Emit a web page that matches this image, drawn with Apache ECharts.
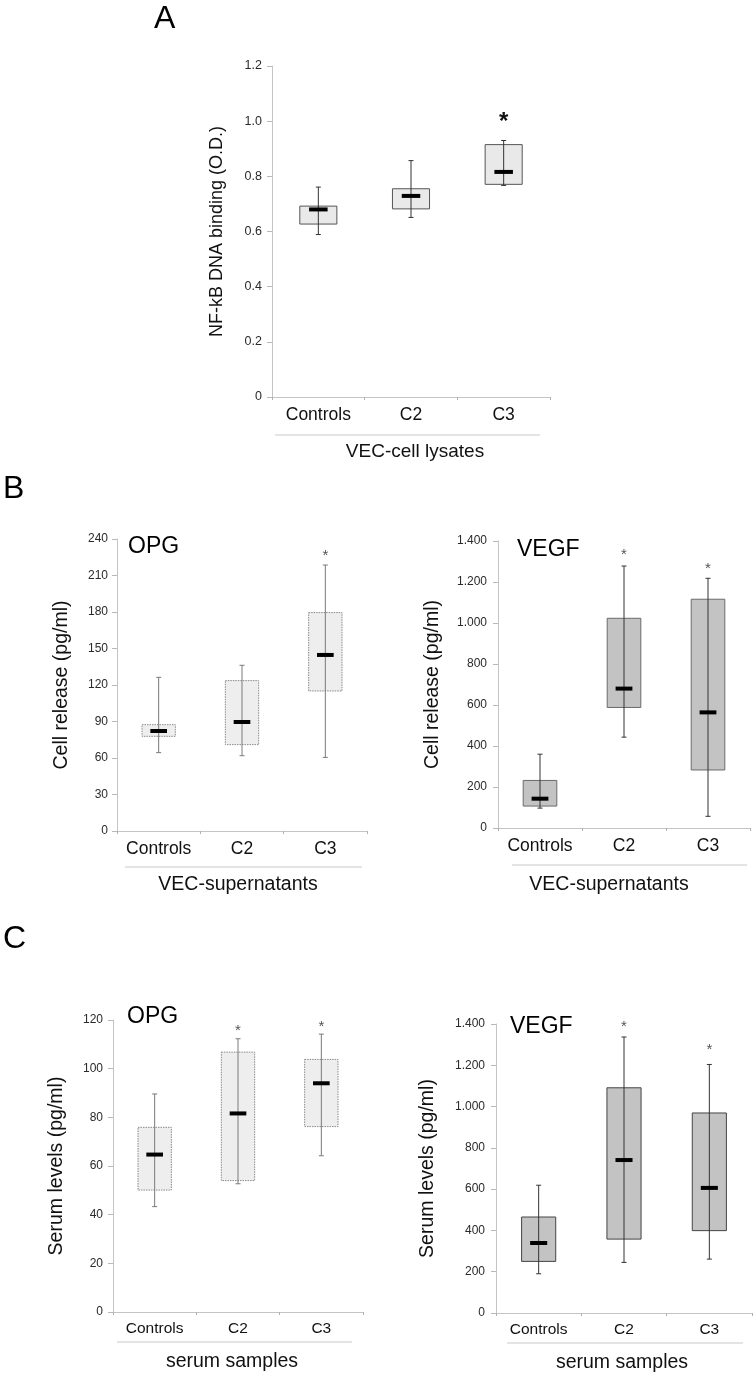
<!DOCTYPE html>
<html>
<head>
<meta charset="utf-8">
<script src="https://cdn.jsdelivr.net/npm/echarts@6/dist/echarts.min.js"></script>
<style>html,body{margin:0;padding:0;background:#fff;}#c{width:756px;height:1378px;}</style>
</head>
<body>
<div id="c"></div>
<script>
// ---------- DATA ----------
const categories = ['Controls', 'C2', 'C3'];

// Panel A: NF-kB DNA binding (O.D.), VEC-cell lysates
const aMin = [0.589, 0.651, 0.767];
const aQ1  = [0.627, 0.682, 0.771];
const aMed = [0.680, 0.729, 0.816];
const aQ3  = [0.692, 0.755, 0.915];
const aMax = [0.761, 0.857, 0.930];
const aStar = [null, null, 1.015];

// Panel B left: OPG cell release (pg/ml)
const bOpgMin = [64.4, 61.9, 60.5];
const bOpgQ1  = [77.8, 71.0, 115.1];
const bOpgMed = [82.2, 89.6, 144.7];
const bOpgQ3  = [87.4, 123.6, 179.5];
const bOpgMax = [126.3, 136.2, 218.6];
const bOpgStar = [null, null, 229];

// Panel B right: VEGF cell release (pg/ml)
const bVegfMin = [97, 443, 57];
const bVegfQ1  = [107, 588, 283];
const bVegfMed = [143, 680, 564];
const bVegfQ3  = [232, 1023, 1116];
const bVegfMax = [360, 1278, 1218];
const bVegfStar = [null, 1350, 1280];

// Panel C left: OPG serum levels (pg/ml)
const cOpgMin = [43.3, 52.7, 64.2];
const cOpgQ1  = [50.1, 54.0, 76.2];
const cOpgMed = [64.7, 81.6, 94.0];
const cOpgQ3  = [75.9, 106.8, 103.8];
const cOpgMax = [89.6, 112.3, 114.2];
const cOpgStar = [null, 116.8, 118.6];

// Panel C right: VEGF serum levels (pg/ml)
const cVegfMin = [190, 245, 261];
const cVegfQ1  = [250, 358, 399];
const cVegfMed = [339, 741, 606];
const cVegfQ3  = [465, 1091, 969];
const cVegfMax = [619, 1337, 1204];
const cVegfStar = [null, 1400, 1292];

// ---------- CHART ----------
const FONT = '"Liberation Sans", Arial, Helvetica, sans-serif';
const chart = echarts.init(document.getElementById('c'), null, {renderer: 'canvas'});

const grids = [
  {left: 272, top: 66,   width: 278, height: 331},
  {left: 117, top: 539,  width: 250, height: 292},
  {left: 498, top: 541,  width: 252, height: 287},
  {left: 113, top: 1020, width: 250, height: 292},
  {left: 496, top: 1024, width: 256, height: 289}
];

function thousands(v) {
  if (v >= 1000) return Math.floor(v / 1000) + '.' + String(v % 1000).padStart(3, '0');
  return String(v);
}

const yCfg = [
  {min: 0, max: 1.2, interval: 0.2, name: 'NF-kB DNA binding (O.D.)', gap: 46, fs: 18, lfs: 12.5, lm: 10,
   fmt: v => v === 0 ? '0' : v.toFixed(1)},
  {min: 0, max: 240, interval: 30, name: 'Cell release (pg/ml)', gap: 45, fs: 19.5, lfs: 12, lm: 9, fmt: v => String(v)},
  {min: 0, max: 1400, interval: 200, name: 'Cell release (pg/ml)', gap: 55, fs: 19.5, lfs: 12, lm: 11, fmt: thousands},
  {min: 0, max: 120, interval: 20, name: 'Serum levels (pg/ml)', gap: 46, fs: 19.5, lfs: 12, lm: 10, fmt: v => String(v)},
  {min: 0, max: 1400, interval: 200, name: 'Serum levels (pg/ml)', gap: 58, fs: 19.5, lfs: 12, lm: 11, fmt: thousands}
];
const catFs = [17.5, 17.5, 17.5, 15.5, 15.5];

const xAxes = grids.map((g, i) => ({
  type: 'category', gridIndex: i, data: categories,
  axisLine: {lineStyle: {color: '#c4c4c4', width: 1}},
  axisTick: {show: true, length: 3, interval: 0, lineStyle: {color: '#b0b0b0'}},
  axisLabel: {color: '#111', fontSize: catFs[i], fontFamily: FONT, margin: 9, interval: 0, hideOverlap: false}
}));
const yAxes = yCfg.map((c, i) => ({
  type: 'value', gridIndex: i, min: c.min, max: c.max, interval: c.interval,
  name: c.name, nameLocation: 'middle', nameRotate: 90, nameGap: c.gap,
  nameTextStyle: {color: '#111', fontSize: c.fs, fontFamily: FONT},
  axisLine: {show: true, lineStyle: {color: '#c4c4c4', width: 1}},
  axisTick: {show: true, length: 5, lineStyle: {color: '#b8b8b8'}},
  axisLabel: {color: '#2a2a2a', fontSize: c.lfs, fontFamily: FONT, margin: c.lm, formatter: c.fmt},
  splitLine: {show: false}
}));

function boxSeries(idx, mins, q1s, meds, q3s, maxs, stars, st) {
  return {
    type: 'custom', xAxisIndex: idx, yAxisIndex: idx, z: 5,
    data: categories.map((c, i) => [i, mins[i], q1s[i], meds[i], q3s[i], maxs[i]]),
    renderItem: function (params, api) {
      const x = api.value(0);
      const pMin = api.coord([x, api.value(1)]);
      const pQ1 = api.coord([x, api.value(2)]);
      const pMed = api.coord([x, api.value(3)]);
      const pQ3 = api.coord([x, api.value(4)]);
      const pMax = api.coord([x, api.value(5)]);
      const cx = pMed[0];
      const bw = api.size([1, 0])[0] * 0.4;
      const mw = bw * 0.5;
      const children = [
        {type: 'rect', shape: {x: cx - bw / 2, y: pQ3[1], width: bw, height: pQ1[1] - pQ3[1]},
         style: {fill: st.fill, stroke: st.stroke, lineWidth: st.boxLw, lineDash: st.dash}},
        {type: 'line', shape: {x1: cx, y1: pMax[1], x2: cx, y2: pMin[1]},
         style: {stroke: st.whisker, lineWidth: 1}},
        {type: 'line', shape: {x1: cx - 2.5, y1: pMax[1], x2: cx + 2.5, y2: pMax[1]},
         style: {stroke: st.whisker, lineWidth: 1}},
        {type: 'line', shape: {x1: cx - 2.5, y1: pMin[1], x2: cx + 2.5, y2: pMin[1]},
         style: {stroke: st.whisker, lineWidth: 1}},
        {type: 'rect', shape: {x: cx - mw / 2, y: pMed[1] - 2, width: mw, height: 4},
         style: {fill: '#000'}}
      ];
      const s = stars[params.dataIndex];
      if (s != null) {
        const ps = api.coord([x, s]);
        children.push({type: 'text', style: {x: cx, y: ps[1] + st.starFs * 0.22, text: '*',
          fill: st.starColor, fontSize: st.starFs, fontWeight: st.starW, fontFamily: FONT,
          align: 'center', verticalAlign: 'middle'}});
      }
      return {type: 'group', children: children};
    }
  };
}

const styleA  = {fill: '#e9e9e9', stroke: '#555', boxLw: 1, dash: null, whisker: '#333', starFs: 24, starW: 'bold', starColor: '#111'};
const styleLt = {fill: '#eeeeee', stroke: '#8a8a8a', boxLw: 1, dash: [1.5, 1], whisker: '#7a7a7a', starFs: 15, starW: 'normal', starColor: '#555'};
const styleDk = {fill: '#c3c3c3', stroke: '#6a6a6a', boxLw: 1, dash: null, whisker: '#333', starFs: 15, starW: 'normal', starColor: '#555'};

const series = [
  boxSeries(0, aMin, aQ1, aMed, aQ3, aMax, aStar, styleA),
  boxSeries(1, bOpgMin, bOpgQ1, bOpgMed, bOpgQ3, bOpgMax, bOpgStar, styleLt),
  boxSeries(2, bVegfMin, bVegfQ1, bVegfMed, bVegfQ3, bVegfMax, bVegfStar, styleDk),
  boxSeries(3, cOpgMin, cOpgQ1, cOpgMed, cOpgQ3, cOpgMax, cOpgStar, styleLt),
  boxSeries(4, cVegfMin, cVegfQ1, cVegfMed, cVegfQ3, cVegfMax, cVegfStar, Object.assign({}, styleDk, {stroke: '#444'}))
];

function txt(x, y, s, fs, align, color) {
  return {type: 'text', x: x, y: y, z: 10,
    style: {text: s, fontSize: fs, fontFamily: FONT, fill: color || '#000', align: align || 'left', verticalAlign: 'middle'}};
}
function hline(x1, x2, y) {
  return {type: 'line', z: 10, shape: {x1: x1, y1: y, x2: x2, y2: y}, style: {stroke: '#c8c8c8', lineWidth: 1}};
}

const graphic = [
  txt(154, 19, 'A', 32), txt(3, 489, 'B', 32), txt(3, 939, 'C', 32),
  txt(128, 547, 'OPG', 23), txt(517, 550, 'VEGF', 23),
  txt(127, 1017, 'OPG', 23), txt(510, 1027, 'VEGF', 23),
  hline(275, 540, 435), txt(415, 452, 'VEC-cell lysates', 19, 'center', '#111'),
  hline(125, 362, 867), txt(238, 885, 'VEC-supernatants', 19.5, 'center', '#111'),
  hline(512, 747, 865), txt(609, 885, 'VEC-supernatants', 19.5, 'center', '#111'),
  hline(117, 352, 1342), txt(232, 1362, 'serum samples', 19.5, 'center', '#111'),
  hline(507, 743, 1343), txt(622, 1363, 'serum samples', 19.5, 'center', '#111')
];

chart.setOption({
  animation: false,
  backgroundColor: '#fff',
  grid: grids,
  xAxis: xAxes,
  yAxis: yAxes,
  series: series,
  graphic: graphic
});
</script>
</body>
</html>
